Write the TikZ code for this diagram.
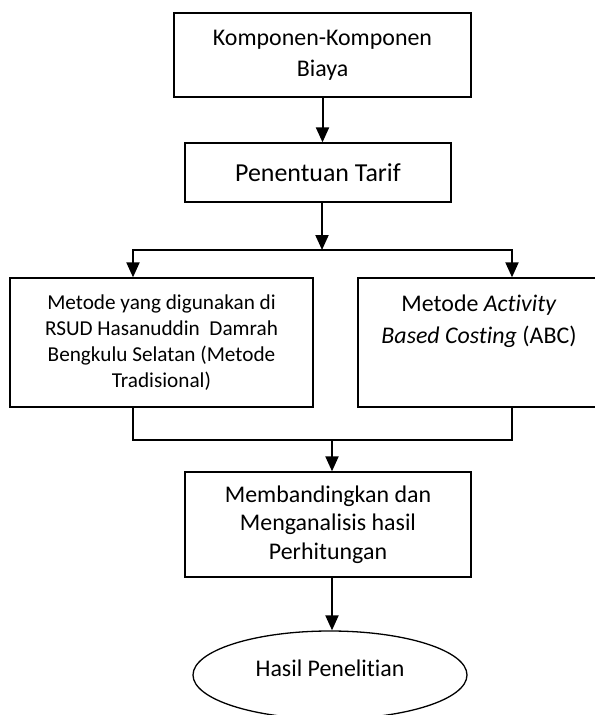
\documentclass[tikz,border=0pt]{standalone}
\usepackage{fontspec}
\setmainfont{Carlito}[Ligatures={NoCommon,NoRare,NoContextual}]
\usetikzlibrary{arrows.meta,shapes.geometric}
\begin{document}
\begin{tikzpicture}[x=1bp,y=-1bp,
  box/.style={draw,line width=1.3bp,inner sep=0pt,align=center},
  txt/.style={inner sep=0pt,align=center},
  conn/.style={line width=2bp},
  arr/.style={conn,-{Triangle[width=13bp,length=15bp]}}]
\clip (0,0) rectangle (595,715);
\fill[white] (0,0) rectangle (595,715);
\node[box,minimum width=297bp,minimum height=84bp,font=\fontsize{24}{31}\selectfont] (b1) at (322.5,55) {Komponen-Komponen\\Biaya};
\node[box,minimum width=266bp,minimum height=59bp,font=\fontsize{26}{31}\selectfont] (b2) at (318,172.5) {Penentuan Tarif};
\node[box,minimum width=303bp,minimum height=129bp,font=\fontsize{21.3}{26}\selectfont] (lb) at (161.5,342.5) {Metode yang digunakan di\\RSUD Hasanuddin\ \ Damrah\\Bengkulu Selatan (Metode\\Tradisional)};
\node[box,minimum width=242bp,minimum height=129bp] (rb) at (479,342.5) {};
\node[txt,font=\fontsize{24}{32}\selectfont] (rbt) at (479,321) {Metode \textit{Activity}\\\textit{Based Costing} (ABC)};
\node[box,minimum width=286bp,minimum height=105bp,font=\fontsize{24}{28.5}\selectfont] (b4) at (328,524.5) {Membandingkan dan\\Menganalisis hasil\\Perhitungan};
\node[draw,ellipse,line width=1.3bp,inner sep=0pt,minimum width=274bp,minimum height=88bp] (ell) at (330,675) {};
\node[txt,font=\fontsize{24}{28}\selectfont] (ellt) at (330,668) {Hasil Penelitian};
\coordinate (sp) at (322,250);
\coordinate (jl) at (133,250);
\coordinate (jr) at (512,250);
\coordinate (ml) at (133,440);
\coordinate (mr) at (512,440);
\coordinate (mm) at (332,440);
\draw[arr] (b1.south) -- (b1.south |- b2.north);
\draw[arr] (b2.south -| sp) -- (sp);
\draw[arr] (sp) -- (jl) -- (jl |- lb.north);
\draw[arr] (sp) -- (jr) -- (jr |- rb.north);
\draw[conn] (lb.south -| ml) -- (ml) -- (mr) -- (rb.south -| mr);
\draw[arr] (mm) -- (mm |- b4.north);
\draw[arr] (b4.south -| mm) -- (mm |- ell.north);
\end{tikzpicture}
\end{document}
